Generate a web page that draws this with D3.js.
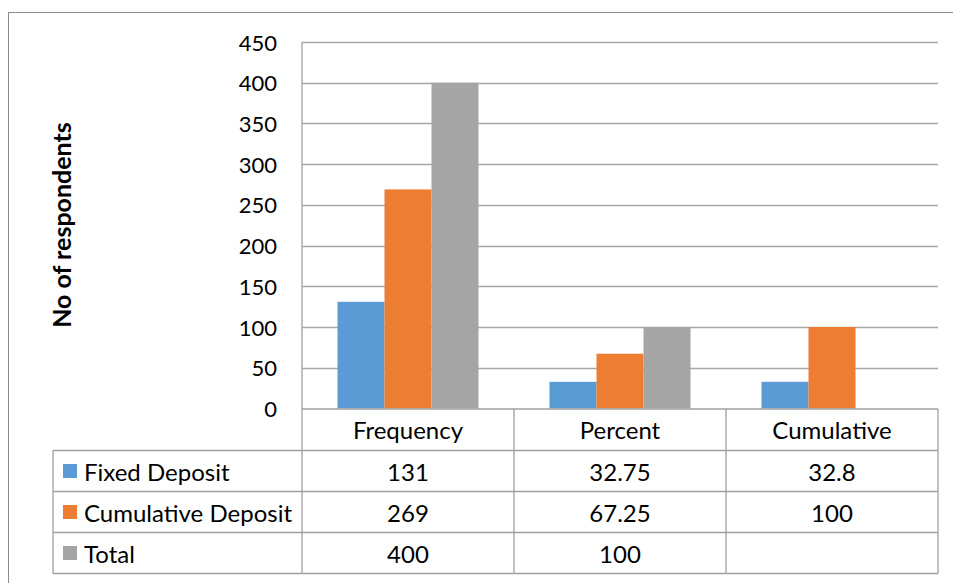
<!DOCTYPE html>
<html>
<head>
<meta charset="utf-8">
<script src="https://cdn.jsdelivr.net/npm/d3@7"></script>
<style>
  html, body { margin: 0; padding: 0; background: #fff; }
  svg { display: block; font-family: Lato, "Open Sans", sans-serif; }
</style>
</head>
<body>
<svg id="chart" width="953" height="583"></svg>
<script>
// Categories along the x axis
const categories = ["Frequency", "Percent", "Cumulative"];
// Series names and values per category (null = no value)
const seriesNames = ["Fixed Deposit", "Cumulative Deposit", "Total"];
const fixedDeposit = [131, 32.75, 32.8];
const cumulativeDeposit = [269, 67.25, 100];
const total = [400, 100, null];
// Labels shown in the data table
const fixedDepositLabels = ["131", "32.75", "32.8"];
const cumulativeDepositLabels = ["269", "67.25", "100"];
const totalLabels = ["400", "100", ""];
const yTicks = [0, 50, 100, 150, 200, 250, 300, 350, 400, 450];

const seriesValues = [fixedDeposit, cumulativeDeposit, total];
const seriesLabels = [fixedDepositLabels, cumulativeDepositLabels, totalLabels];
const colors = ["#5b9bd5", "#ed7d31", "#a5a5a5"];
const gridColor = "#a6a6a6";
const borderColor = "#a0a0a0";
const tableFont = 24;

const svg = d3.select("#chart");

// Outer chart frame
svg.append("rect")
  .attr("x", 8.5).attr("y", 12.5)
  .attr("width", 960).attr("height", 620)
  .attr("fill", "none").attr("stroke", "#8c8c8c").attr("stroke-width", 1);

const plot = { left: 302, right: 938, top: 42, bottom: 408.5 };

const x = d3.scaleBand().domain(categories).range([plot.left, plot.right]).padding(0);
const xInner = d3.scaleBand().domain(seriesNames).range([0, x.bandwidth()])
  .paddingInner(0).paddingOuter(0.755);
const y = d3.scaleLinear().domain([0, 450]).range([plot.bottom, plot.top]);

// Horizontal gridlines
svg.append("g").selectAll("line").data(yTicks.filter(d => d > 0)).join("line")
  .attr("x1", plot.left).attr("x2", plot.right)
  .attr("y1", d => Math.round(y(d)) + 0.5).attr("y2", d => Math.round(y(d)) + 0.5)
  .attr("stroke", gridColor).attr("stroke-width", 1.3);

// Y tick labels
svg.append("g").selectAll("text").data(yTicks).join("text")
  .attr("x", 277).attr("y", d => y(d))
  .attr("text-anchor", "end").attr("dominant-baseline", "central")
  .attr("font-size", 22).attr("fill", "#000")
  .text(d => d);

// Bars
const groups = svg.append("g").selectAll("g").data(categories).join("g")
  .attr("transform", d => `translate(${x(d)},0)`);
groups.selectAll("rect")
  .data((c, ci) => seriesNames.map((s, si) => ({ s, si, v: seriesValues[si][ci] })).filter(d => d.v != null))
  .join("rect")
  .attr("x", d => xInner(d.s)).attr("width", xInner.bandwidth())
  .attr("y", d => y(d.v)).attr("height", d => y(0) - y(d.v))
  .attr("fill", d => colors[d.si]);

// Data table
const tableLeft = 53;
const rowEdges = [409, 450.5, 491.5, 532.5, 573.5];
const tbl = svg.append("g").attr("stroke", borderColor).attr("stroke-width", 1.3).attr("fill", "none");
// axis line / header top
tbl.append("line").attr("x1", plot.left).attr("x2", plot.right).attr("y1", rowEdges[0]).attr("y2", rowEdges[0]);
// horizontal row lines
rowEdges.slice(1).forEach(ry => {
  tbl.append("line").attr("x1", tableLeft).attr("x2", plot.right).attr("y1", ry).attr("y2", ry);
});
// vertical lines
tbl.append("line").attr("x1", plot.left).attr("x2", plot.left).attr("y1", plot.top).attr("y2", rowEdges[4]);
tbl.append("line").attr("x1", tableLeft).attr("x2", tableLeft).attr("y1", rowEdges[1]).attr("y2", rowEdges[4]);
categories.forEach(c => {
  const xe = x(c) + x.bandwidth();
  tbl.append("line").attr("x1", xe).attr("x2", xe).attr("y1", rowEdges[0]).attr("y2", rowEdges[4]);
});

// Header row: category names
svg.append("g").selectAll("text").data(categories).join("text")
  .attr("x", d => x(d) + x.bandwidth() / 2)
  .attr("y", (rowEdges[0] + rowEdges[1]) / 2)
  .attr("text-anchor", "middle").attr("dominant-baseline", "central")
  .attr("font-size", tableFont).attr("fill", "#000")
  .text(d => d);

// Series rows: legend key, name, values
seriesNames.forEach((s, si) => {
  const cy = (rowEdges[si + 1] + rowEdges[si + 2]) / 2;
  svg.append("rect").attr("x", 63).attr("y", cy - 7).attr("width", 14).attr("height", 14)
    .attr("fill", colors[si]);
  svg.append("text").attr("x", 84).attr("y", cy)
    .attr("dominant-baseline", "central").attr("font-size", tableFont).attr("fill", "#000")
    .text(s);
  svg.append("g").selectAll("text").data(categories).join("text")
    .attr("x", d => x(d) + x.bandwidth() / 2).attr("y", cy)
    .attr("text-anchor", "middle").attr("dominant-baseline", "central")
    .attr("font-size", tableFont).attr("fill", "#000")
    .text((d, ci) => seriesLabels[si][ci]);
});

// Y axis title
svg.append("text")
  .attr("transform", "translate(61,225) rotate(-90)")
  .attr("text-anchor", "middle").attr("dominant-baseline", "central")
  .attr("font-size", 25).attr("font-weight", "bold").attr("fill", "#000")
  .text("No of respondents");
</script>
</body>
</html>
